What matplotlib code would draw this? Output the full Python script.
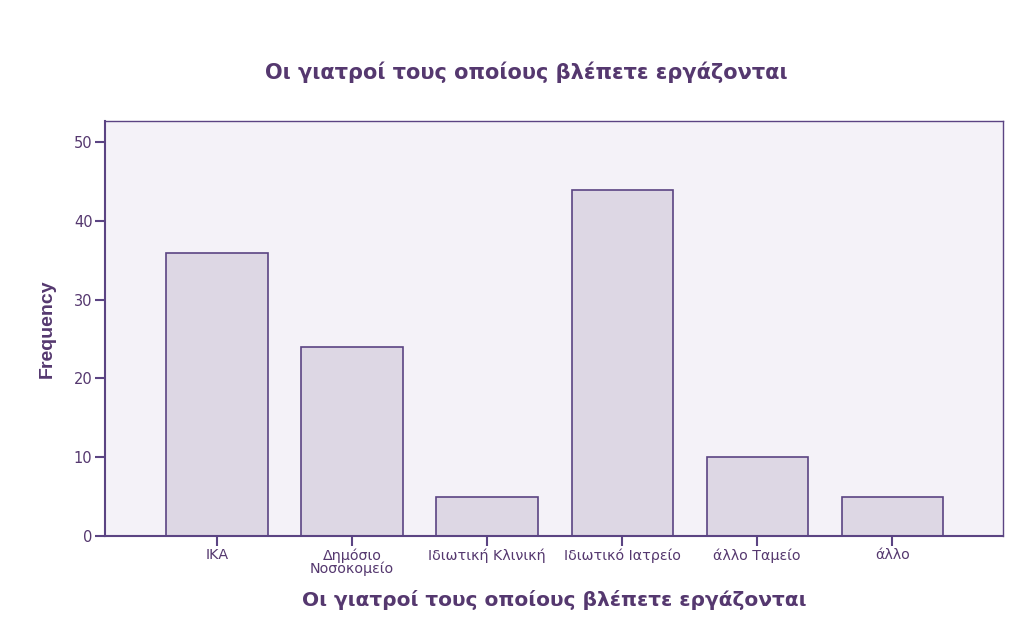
import numpy as np
import matplotlib
matplotlib.use('Agg')
import matplotlib.pyplot as plt

plt.rcParams['font.family'] = ['DejaVu Sans']

# 数据
categories = ['ΙΚΑ', 'Δημόσιο\nΝοσοκομείο', 'Ιδιωτική Κλινική',
              'Ιδιωτικό Ιατρείο', 'άλλο Ταμείο', 'άλλο']
counts = [36, 24, 5, 44, 10, 5]
yticks = [0, 10, 20, 30, 40, 50]
title = 'Οι γιατροί τους οποίους βλέπετε εργάζονται'

purple = '#5B4483'
text_col = '#55386F'
bar_fill = '#DDD7E4'
bg = '#F4F2F8'

fig = plt.figure(figsize=(10.24, 6.26), dpi=100)
ax = fig.add_axes([0.1025, 0.1438, 0.877, 0.6629])
ax.set_facecolor(bg)

x = np.arange(len(categories))
ax.bar(x, counts, width=0.75, color=bar_fill, edgecolor=purple, linewidth=1.2)

ax.set_xlim(-0.83, 5.82)
ax.set_ylim(0, 52.7)
ax.set_xticks(x)
ax.set_xticklabels(categories, fontsize=10.3, color=text_col, linespacing=0.9)
ax.set_yticks(yticks)
ax.set_yticklabels([str(v) for v in yticks], fontsize=10.5, color=text_col)
ax.tick_params(axis='both', direction='out', length=7, width=1.5, color=purple, pad=2)

for side in ['left', 'bottom']:
    ax.spines[side].set_color(purple)
    ax.spines[side].set_linewidth(1.5)
for side in ['top', 'right']:
    ax.spines[side].set_color(purple)
    ax.spines[side].set_linewidth(1.0)

ax.set_ylabel('Frequency', fontsize=14, fontweight='bold', color=text_col,
              family=['Liberation Sans', 'DejaVu Sans'], labelpad=13)
ax.set_xlabel(title, fontsize=14.5, fontweight='bold', color=text_col, labelpad=10)
fig.text(0.5135, 0.885, title, ha='center', va='center', fontsize=15,
         fontweight='bold', color=text_col)

plt.savefig('out.png', dpi=100)
